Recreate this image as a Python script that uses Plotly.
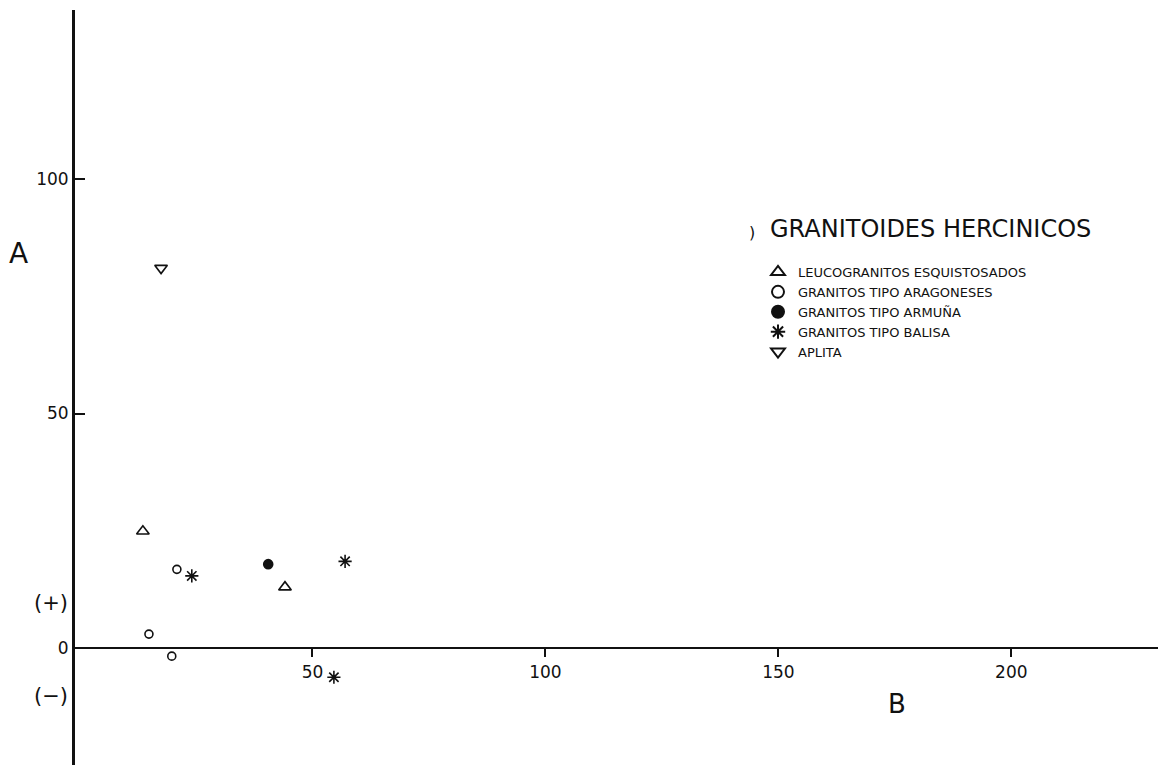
import plotly.graph_objects as go

# ---- data ----
leuco_b = [13.6, 44.1]
leuco_a = [24.9, 13.0]

arag_b = [20.9, 14.9, 19.8]
arag_a = [16.8, 3.0, -1.7]

armuna_b = [40.5]
armuna_a = [17.9]

balisa_b = [24.1, 57.0, 54.6]
balisa_a = [15.4, 18.5, -6.2]

aplita_b = [17.5]
aplita_a = [81.0]

x_ticks = [50, 100, 150, 200]
y_ticks = [0, 50, 100]

X_RANGE = [-0.97, 233.2]
Y_RANGE = [-24.9, 136.0]

FONT = "DejaVu Sans"
BLACK = "#111111"

# browser adds an 8px body margin; figure sized so the page never scrolls
OFF = 8
W, H = 1166 - OFF, 781 - 3 * OFF
ML, MR, MT, MB = 67, 0, 2, 0
PW, PH = W - ML - MR, H - MT - MB

series = [
    ("LEUCOGRANITOS ESQUISTOSADOS", leuco_b, leuco_a, "triangle-up-open", 11),
    ("GRANITOS TIPO ARAGONESES", arag_b, arag_a, "circle-open", 8),
    ("GRANITOS TIPO ARMUÑA", armuna_b, armuna_a, "circle", 9),
    ("GRANITOS TIPO BALISA", balisa_b, balisa_a, "asterisk-open", 11),
    ("APLITA", aplita_b, aplita_a, "triangle-down-open", 11),
]

fig = go.Figure()
for name, xs, ys, sym, size in series:
    fig.add_trace(go.Scatter(
        x=xs, y=ys, mode="markers", name=name,
        marker=dict(symbol=sym, size=size, color=BLACK,
                    line=dict(color=BLACK, width=1.6)),
    ))

xpos = (0 - Y_RANGE[0]) / (Y_RANGE[1] - Y_RANGE[0])


def px_x(sx):
    return (sx - OFF - ML) / PW


def px_y(sy):
    return (OFF + MT + PH - sy) / PH


fig.update_layout(
    width=W, height=H,
    margin=dict(l=ML, r=MR, t=MT, b=MB),
    paper_bgcolor="white", plot_bgcolor="white",
    font=dict(family=FONT, color=BLACK),
    showlegend=True,
    legend=dict(
        x=px_x(758), y=px_y(257), xanchor="left", yanchor="top",
        xref="paper", yref="paper",
        bgcolor="rgba(0,0,0,0)",
        font=dict(family=FONT, size=13, color=BLACK),
        tracegroupgap=0, itemsizing="constant",
    ),
    xaxis=dict(
        range=X_RANGE, anchor="free", position=xpos,
        showgrid=False, zeroline=False,
        showline=True, linecolor=BLACK, linewidth=2,
        tickvals=x_ticks, ticktext=[str(v) for v in x_ticks],
        ticks="outside", ticklen=8, tickwidth=1.5, tickcolor=BLACK,
        tickfont=dict(family=FONT, size=17, color=BLACK),
    ),
    yaxis=dict(
        range=Y_RANGE,
        showgrid=False, zeroline=False,
        showline=True, linecolor=BLACK, linewidth=3,
        tickvals=y_ticks, ticktext=[str(v) for v in y_ticks],
        ticks="inside", ticklen=10, tickwidth=1.5, tickcolor=BLACK,
        tickfont=dict(family=FONT, size=17, color=BLACK),
    ),
)

labels = [
    ("A", 18, 253, 28, "center"),
    ("B", 897, 704, 26, "center"),
    ("(+)", 51, 603, 21, "center"),
    ("(−)", 51, 696, 21, "center"),
    (")", 752, 233, 16, "center"),
    ("GRANITOIDES HERCINICOS", 768, 229, 24, "left"),
]
for text, sx, sy, size, anchor in labels:
    fig.add_annotation(text=text, x=px_x(sx), y=px_y(sy),
                       xref="paper", yref="paper", showarrow=False,
                       xanchor=anchor, yanchor="middle",
                       font=dict(family=FONT, size=size, color=BLACK))

fig.write_html("out.html")
